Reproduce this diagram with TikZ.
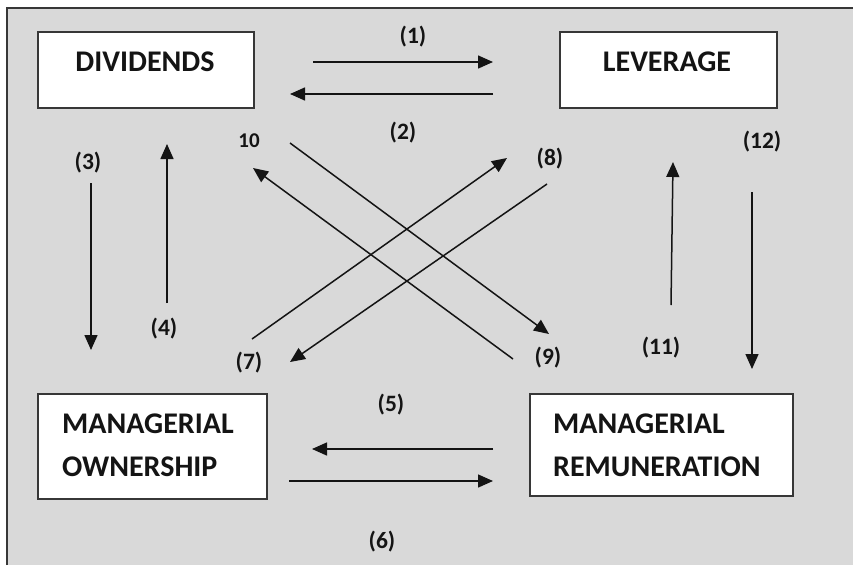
\documentclass[tikz,border=0pt]{standalone}
\usepackage{fontspec}
\setmainfont{Carlito}
\usetikzlibrary{arrows.meta}
\definecolor{panel}{HTML}{D9D9D9}
\definecolor{ink}{HTML}{141414}
\tikzset{
  box/.style={draw=ink!85, line width=1.5pt, fill=white, rectangle, inner sep=0pt, anchor=north west},
  boxtext/.style={font=\bfseries\fontsize{30}{43}\selectfont, text=ink, inner sep=0pt},
  num/.style={font=\bfseries\fontsize{23.5}{26}\selectfont, text=ink, inner sep=0pt},
  smallnum/.style={font=\bfseries\fontsize{21}{24}\selectfont, text=ink, inner sep=0pt},
  link/.style={draw=ink, line width=1.5pt, -{Triangle[length=15pt,width=13pt]}},
}
\begin{document}
\begin{tikzpicture}[x=1pt,y=-1pt]
\useasboundingbox (0,0) rectangle (853,565);
% panel
\fill[panel] (7,8) rectangle (853,565);
\draw[ink!85, line width=1.5pt] (7,565) -- (7,8) -- (853,8);

% boxes
\node[box, minimum width=216pt, minimum height=76pt] (div) at (37,31) {};
\node[box, minimum width=217pt, minimum height=76pt] (lev) at (559,31) {};
\node[box, minimum width=229pt, minimum height=105pt] (own) at (37,393) {};
\node[box, minimum width=263pt, minimum height=102pt] (rem) at (529,393) {};

% box captions (base anchor sits on the last line)
\node[boxtext, anchor=base] (divT) at (145,71) {DIVIDENDS};
\node[boxtext, anchor=base] (levT) at (667,71) {LEVERAGE};
\node[boxtext, anchor=base west, align=left] (ownT) at (62,476) {MANAGERIAL\\OWNERSHIP};
\node[boxtext, anchor=base west, align=left] (remT) at (553,476) {MANAGERIAL\\REMUNERATION};

% arrow end points
\coordinate (a1s) at (313,62);  \coordinate (a1e) at (493,62);
\coordinate (a2s) at (493,94);  \coordinate (a2e) at (290,94);
\coordinate (a3s) at (91,183);  \coordinate (a3e) at (91,350);
\coordinate (a4s) at (167,303); \coordinate (a4e) at (167,144);
\coordinate (a5s) at (493,449); \coordinate (a5e) at (312,449);
\coordinate (a6s) at (289,481); \coordinate (a6e) at (493,481);
\coordinate (a7s) at (252,339); \coordinate (a7e) at (507,158);
\coordinate (a8s) at (547,184); \coordinate (a8e) at (290,362);
\coordinate (a9s) at (290,143); \coordinate (a9e) at (549,334);
\coordinate (a10s) at (513,359); \coordinate (a10e) at (253,168);
\coordinate (a11s) at (671,305); \coordinate (a11e) at (673,162);
\coordinate (a12s) at (752,192); \coordinate (a12e) at (752,369);

\foreach \k in {1,...,12} \draw[link] (a\k s) -- (a\k e);

% labels
\node[num] (l1) at (413,37) {(1)};
\node[num] (l2) at (403,133) {(2)};
\node[num] (l3) at (88,163) {(3)};
\node[num] (l4) at (164,329) {(4)};
\node[num] (l5) at (391,405) {(5)};
\node[num] (l6) at (382,542) {(6)};
\node[num] (l7) at (249,363) {(7)};
\node[num] (l8) at (550,159) {(8)};
\node[num] (l9) at (548,358) {(9)};
\node[smallnum] (l10) at (249,141) {10};
\node[num] (l11) at (661,348) {(11)};
\node[num] (l12) at (762,142) {(12)};
\end{tikzpicture}
\end{document}
